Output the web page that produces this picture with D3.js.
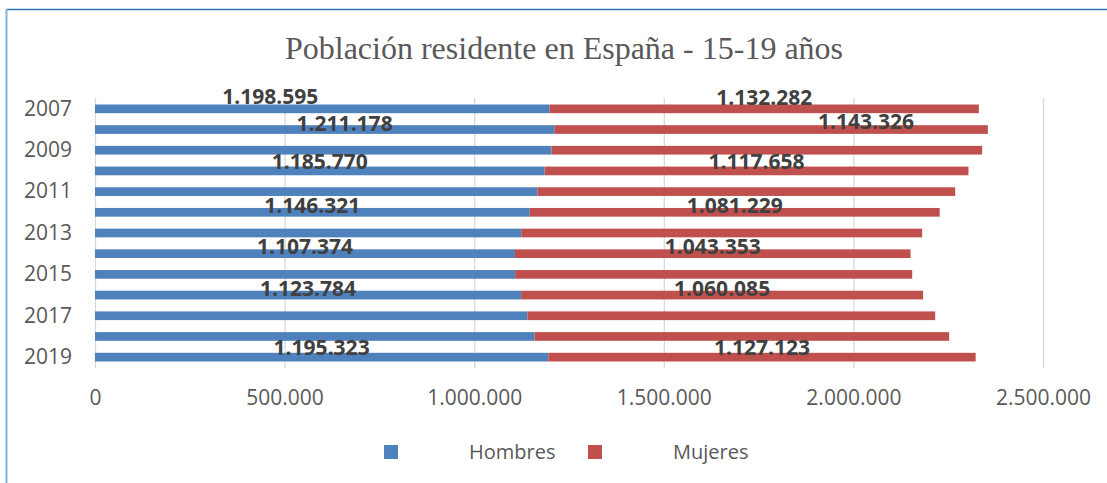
<!DOCTYPE html>
<html>
<head>
<meta charset="utf-8">
<script src="https://cdn.jsdelivr.net/npm/d3@7"></script>
<style>
  body { margin: 0; background: #fff; }
  svg text { font-family: "Open Sans", sans-serif; }
</style>
</head>
<body>
<div id="chart"></div>
<script>
// data
const years = ["2007", "2008", "2009", "2010", "2011", "2012", "2013",
  "2014", "2015", "2016", "2017", "2018", "2019"];
const hombres = [1198595, 1211178, 1204000, 1185770, 1166600, 1146321, 1124200,
  1107374, 1108000, 1123784, 1140300, 1159000, 1195323];
const mujeres = [1132282, 1143326, 1135500, 1117658, 1101800, 1081229, 1057200,
  1043353, 1047100, 1060085, 1075400, 1093600, 1127123];
const labelled = ["2007", "2008", "2010", "2012", "2014", "2016", "2019"];
const xTicks = [0, 500000, 1000000, 1500000, 2000000, 2500000];
const yTicks = ["2007", "2009", "2011", "2013", "2015", "2017", "2019"];
const seriesNames = ["Hombres", "Mujeres"];
const seriesColors = ["#4F81BD", "#C0504D"];

// hand-moved data labels in the original (px shift, label centre vs bar centre)
const labelLayout = {
  "2007": { hx: -52, mx: 0, hy: -12, my: -11 },
  "2008": { hx: 20, mx: 95, hy: -6, my: -8 },
  "2010": { hx: 0, mx: 0, hy: -9, my: -9 },
  "2012": { hx: 0, mx: 0, hy: -7, my: -7 },
  "2014": { hx: 0, mx: 0, hy: -7, my: -7 },
  "2016": { hx: 0, mx: 0, hy: -7, my: -7 },
  "2019": { hx: 0, mx: 0, hy: -10, my: -10 }
};

const width = 1107, height = 483;
const fmt = d3.formatLocale({ decimal: ",", thousands: ".", grouping: [3], currency: ["", "€"] }).format(",d");

const svg = d3.select("#chart").append("svg")
  .attr("width", width)
  .attr("height", height);

// outer frame (top + left edge visible)
svg.append("line")
  .attr("x1", 6.5).attr("x2", width).attr("y1", 9.5).attr("y2", 9.5)
  .attr("stroke", "#2E75B6").attr("stroke-width", 1.5);
svg.append("line")
  .attr("x1", 6.5).attr("x2", 6.5).attr("y1", 9).attr("y2", height)
  .attr("stroke", "#7EB1E0").attr("stroke-width", 2);

// title
svg.append("text")
  .attr("x", 564).attr("y", 59)
  .attr("text-anchor", "middle")
  .style("font-family", "'Liberation Serif', 'Times New Roman', serif")
  .style("font-size", "32px")
  .attr("fill", "#595959")
  .text("Población residente en España - 15-19 años");

const x = d3.scaleLinear().domain([0, 2500000]).range([95, 1043]);
const y = d3.scaleBand().domain(years).range([98.5, 367.5]).paddingInner(0.58).paddingOuter(0.29);

// gridlines
svg.append("g")
  .selectAll("line")
  .data(xTicks)
  .join("line")
  .attr("x1", (d) => x(d) + 0.5)
  .attr("x2", (d) => x(d) + 0.5)
  .attr("y1", 98)
  .attr("y2", 368)
  .attr("stroke", "#D9D9D9")
  .attr("stroke-width", 1.3);

// x axis labels
const xAxis = svg.append("g")
  .attr("transform", "translate(0,368)")
  .call(d3.axisBottom(x).tickValues(xTicks).tickFormat(fmt).tickSize(0).tickPadding(22));
xAxis.select(".domain").remove();
xAxis.selectAll("text")
  .style("font-size", "21px")
  .attr("fill", "#595959");

// y axis labels
const yAxis = svg.append("g")
  .attr("transform", "translate(95,0)")
  .call(d3.axisLeft(y).tickValues(yTicks).tickSize(0).tickPadding(23));
yAxis.select(".domain").remove();
yAxis.selectAll("text")
  .style("font-size", "21px")
  .attr("fill", "#595959");

// stacked bars
const rows = years.map((yr, i) => ({ year: yr, h: hombres[i], m: mujeres[i] }));
const stack = d3.stack().keys(["h", "m"])(rows);

svg.append("g")
  .selectAll("g")
  .data(stack)
  .join("g")
  .attr("fill", (d, i) => seriesColors[i])
  .selectAll("rect")
  .data((d) => d)
  .join("rect")
  .attr("x", (d) => x(d[0]))
  .attr("width", (d) => x(d[1]) - x(d[0]))
  .attr("y", (d) => y(d.data.year))
  .attr("height", y.bandwidth());

// data labels
const labelRows = rows.filter((r) => labelled.includes(r.year));
const labels = svg.append("g")
  .style("font-size", "21px")
  .style("font-weight", "bold")
  .attr("fill", "#404040")
  .attr("text-anchor", "middle");

labels.selectAll(".lab-h")
  .data(labelRows)
  .join("text")
  .attr("class", "lab-h")
  .attr("x", (d) => (x(0) + x(d.h)) / 2 + labelLayout[d.year].hx)
  .attr("y", (d) => y(d.year) + y.bandwidth() / 2 + labelLayout[d.year].hy)
  .attr("dy", "0.36em")
  .text((d) => fmt(d.h));

labels.selectAll(".lab-m")
  .data(labelRows)
  .join("text")
  .attr("class", "lab-m")
  .attr("x", (d) => (x(d.h) + x(d.h + d.m)) / 2 + labelLayout[d.year].mx)
  .attr("y", (d) => y(d.year) + y.bandwidth() / 2 + labelLayout[d.year].my)
  .attr("dy", "0.36em")
  .text((d) => fmt(d.m));

// legend
const legend = svg.append("g").attr("transform", "translate(384,445)");
const item = legend.selectAll("g")
  .data(seriesNames)
  .join("g")
  .attr("transform", (d, i) => `translate(${i * 204},0)`);
item.append("rect")
  .attr("width", 14)
  .attr("height", 14)
  .attr("fill", (d, i) => seriesColors[i]);
item.append("text")
  .attr("x", 85)
  .attr("y", 7)
  .attr("dy", "0.36em")
  .style("font-size", "20px")
  .attr("fill", "#595959")
  .text((d) => d);
</script>
</body>
</html>
